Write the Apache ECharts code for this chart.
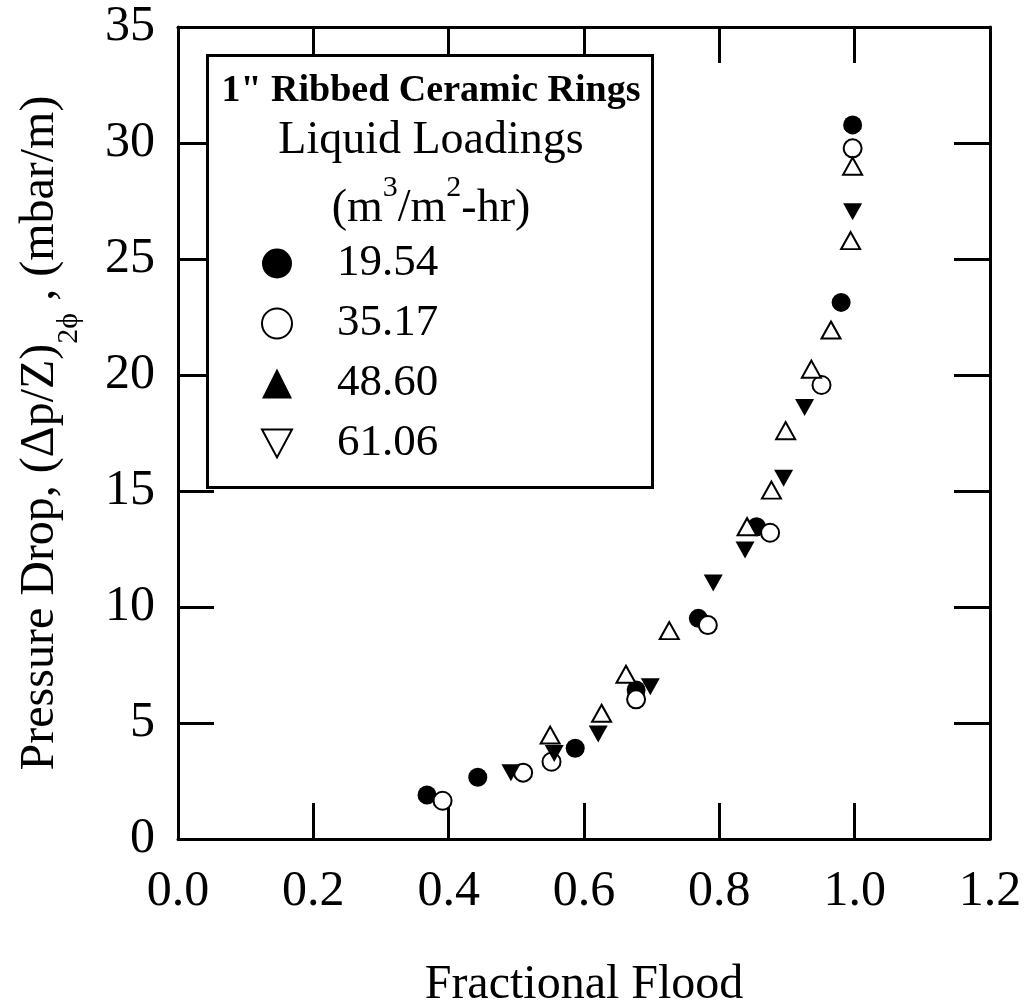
<!DOCTYPE html>
<html>
<head>
<meta charset="utf-8">
<script src="https://cdn.jsdelivr.net/npm/echarts@6/dist/echarts.min.js"></script>
<style>
html,body{margin:0;padding:0;background:#fff;}
#chart{width:1026px;height:1007px;}
</style>
</head>
<body>
<div id="chart"></div>
<script>
// ---- data ----
const seriesNames = ['19.54', '35.17', '48.60', '61.06'];
const load1954 = [[0.368,1.90],[0.443,2.66],[0.587,3.91],[0.677,6.42],[0.769,9.51],[0.855,13.46],[0.980,23.13],[0.997,30.78]];
const load3517 = [[0.391,1.65],[0.510,2.86],[0.552,3.33],[0.677,6.02],[0.783,9.22],[0.875,13.20],[0.951,19.57],[0.997,29.77]];
const load4860 = [[0.492,2.86],[0.556,3.69],[0.621,4.53],[0.698,6.56],[0.791,11.03],[0.838,12.46],[0.895,15.55],[0.926,18.60],[0.997,27.04]];
const load6106 = [[0.550,4.48],[0.626,5.42],[0.662,7.10],[0.726,8.98],[0.841,13.46],[0.877,15.04],[0.898,17.60],[0.936,20.25],[0.965,21.94],[0.994,25.79],[0.997,29.00]];
const xTickLabels = ['0.0','0.2','0.4','0.6','0.8','1.0','1.2'];
const yTickLabels = ['0','5','10','15','20','25','30','35'];
const xMin = 0, xMax = 1.2, xStep = 0.2;
const yMin = 0, yMax = 35, yStep = 5;
const xTitle = 'Fractional Flood';
const yTitleMain = 'Pressure Drop, (\u0394p/Z)';
const yTitleSub = '2\u03d5';
const yTitleEnd = ' , (mbar/m)';
const boxTitle = '1" Ribbed Ceramic Rings';
const boxSubtitle = 'Liquid Loadings';

const FONT = '"Liberation Serif", "Times New Roman", serif';
const chart = echarts.init(document.getElementById('chart'), null, {renderer: 'canvas'});

function frameAxis(pos, showLabel, extra) {
  const isX = (pos === 'bottom' || pos === 'top');
  const base = {
    type: 'value',
    position: pos,
    min: isX ? xMin : yMin,
    max: isX ? xMax : yMax,
    interval: isX ? xStep : yStep,
    axisLine: {show: true, onZero: false, lineStyle: {color: '#000', width: 3}},
    axisTick: {show: true, inside: true, length: 36, lineStyle: {color: '#000', width: 3}},
    splitLine: {show: false},
    axisLabel: {show: showLabel},
    silent: true
  };
  return Object.assign(base, extra || {});
}

const option = {
  animation: false,
  backgroundColor: '#fff',
  grid: {left: 178, right: 36, top: 27, bottom: 168, containLabel: false, outerBoundsMode: 'none'},
  xAxis: [
    frameAxis('bottom', true, {
      axisLabel: {show: true, margin: 28, fontSize: 50, fontFamily: FONT, color: '#000',
        formatter: v => xTickLabels[Math.round((v - xMin) / xStep)]},
      name: xTitle, nameLocation: 'middle', nameGap: 122,
      nameTextStyle: {fontSize: 48, fontFamily: FONT, color: '#000'}
    }),
    frameAxis('top', false)
  ],
  yAxis: [
    frameAxis('left', true, {
      axisLabel: {show: true, margin: 23, fontSize: 50, fontFamily: FONT, color: '#000',
        formatter: v => yTickLabels[Math.round((v - yMin) / yStep)]},
      name: '{m|' + yTitleMain + '}{s|' + yTitleSub + '}{m|' + yTitleEnd + '}',
      nameLocation: 'middle', nameGap: 94, nameRotate: 90,
      nameTextStyle: {
        color: '#000', fontFamily: FONT, fontSize: 48,
        rich: {
          m: {fontSize: 48, fontFamily: FONT, color: '#000', lineHeight: 88},
          s: {fontSize: 30, fontFamily: FONT, color: '#000', lineHeight: 30, verticalAlign: 'bottom'}
        }
      }
    }),
    frameAxis('right', false)
  ],
  legend: {
    show: true, orient: 'vertical', left: 256, top: 236,
    itemWidth: 30, itemHeight: 30, itemGap: 15, selectedMode: false, symbolRotate: 0,
    z: 200,
    data: [
      {name: seriesNames[0], icon: 'circle', itemStyle: {color: '#000', borderWidth: 0, opacity: 1}},
      {name: seriesNames[1], icon: 'circle', itemStyle: {color: '#fff', borderColor: '#000', borderWidth: 2, opacity: 1}},
      {name: seriesNames[2], icon: 'triangle', itemStyle: {color: '#000', borderWidth: 0, opacity: 1}},
      {name: seriesNames[3], icon: 'path://M0,0L30,0L15,28Z', itemStyle: {color: '#fff', borderColor: '#000', borderWidth: 2, opacity: 1}}
    ],
    formatter: n => '{g|}{t|' + n + '}',
    textStyle: {
      color: '#000', fontFamily: FONT, fontSize: 45,
      rich: {
        g: {width: 40, height: 30},
        t: {fontSize: 45, fontFamily: FONT, color: '#000', lineHeight: 30}
      }
    }
  },
  graphic: [
    {type: 'rect', z: 100, silent: true,
      shape: {x: 207.5, y: 55.5, width: 445, height: 432},
      style: {fill: '#fff', stroke: '#000', lineWidth: 3}},
    {type: 'text', z: 101, silent: true, x: 431, y: 91,
      style: {text: boxTitle, fontSize: 38, fontWeight: 'bold', fontFamily: FONT, fill: '#000', align: 'center', verticalAlign: 'middle'}},
    {type: 'text', z: 101, silent: true, x: 431, y: 141,
      style: {text: boxSubtitle, fontSize: 46, fontFamily: FONT, fill: '#000', align: 'center', verticalAlign: 'middle'}},
    {type: 'text', z: 101, silent: true, x: 431, y: 209,
      style: {
        text: '{m|(m}{p|3}{m|/m}{p|2}{m|-hr)}',
        fontSize: 46, fontFamily: FONT, fill: '#000', align: 'center', verticalAlign: 'middle',
        rich: {
          m: {fontSize: 46, fontFamily: FONT, fill: '#000', lineHeight: 72},
          p: {fontSize: 30, fontFamily: FONT, fill: '#000', lineHeight: 30, verticalAlign: 'top'}
        }
      }}
  ],
  series: [
    {type: 'scatter', name: seriesNames[0], data: load1954, symbol: 'circle', symbolSize: 19,
      itemStyle: {color: '#000', opacity: 1}, silent: true, z: 3},
    {type: 'scatter', name: seriesNames[1], data: load3517, symbol: 'circle', symbolSize: 18,
      itemStyle: {color: '#fff', borderColor: '#000', borderWidth: 2, opacity: 1}, silent: true, z: 3},
    {type: 'scatter', name: seriesNames[2], data: load4860, symbol: 'triangle', symbolRotate: 180, symbolSize: [19, 17],
      itemStyle: {color: '#000', opacity: 1}, silent: true, z: 3},
    {type: 'scatter', name: seriesNames[3], data: load6106, symbol: 'triangle', symbolSize: [19, 17],
      itemStyle: {color: '#fff', borderColor: '#000', borderWidth: 2, opacity: 1}, silent: true, z: 3}
  ]
};
chart.setOption(option);
</script>
</body>
</html>
